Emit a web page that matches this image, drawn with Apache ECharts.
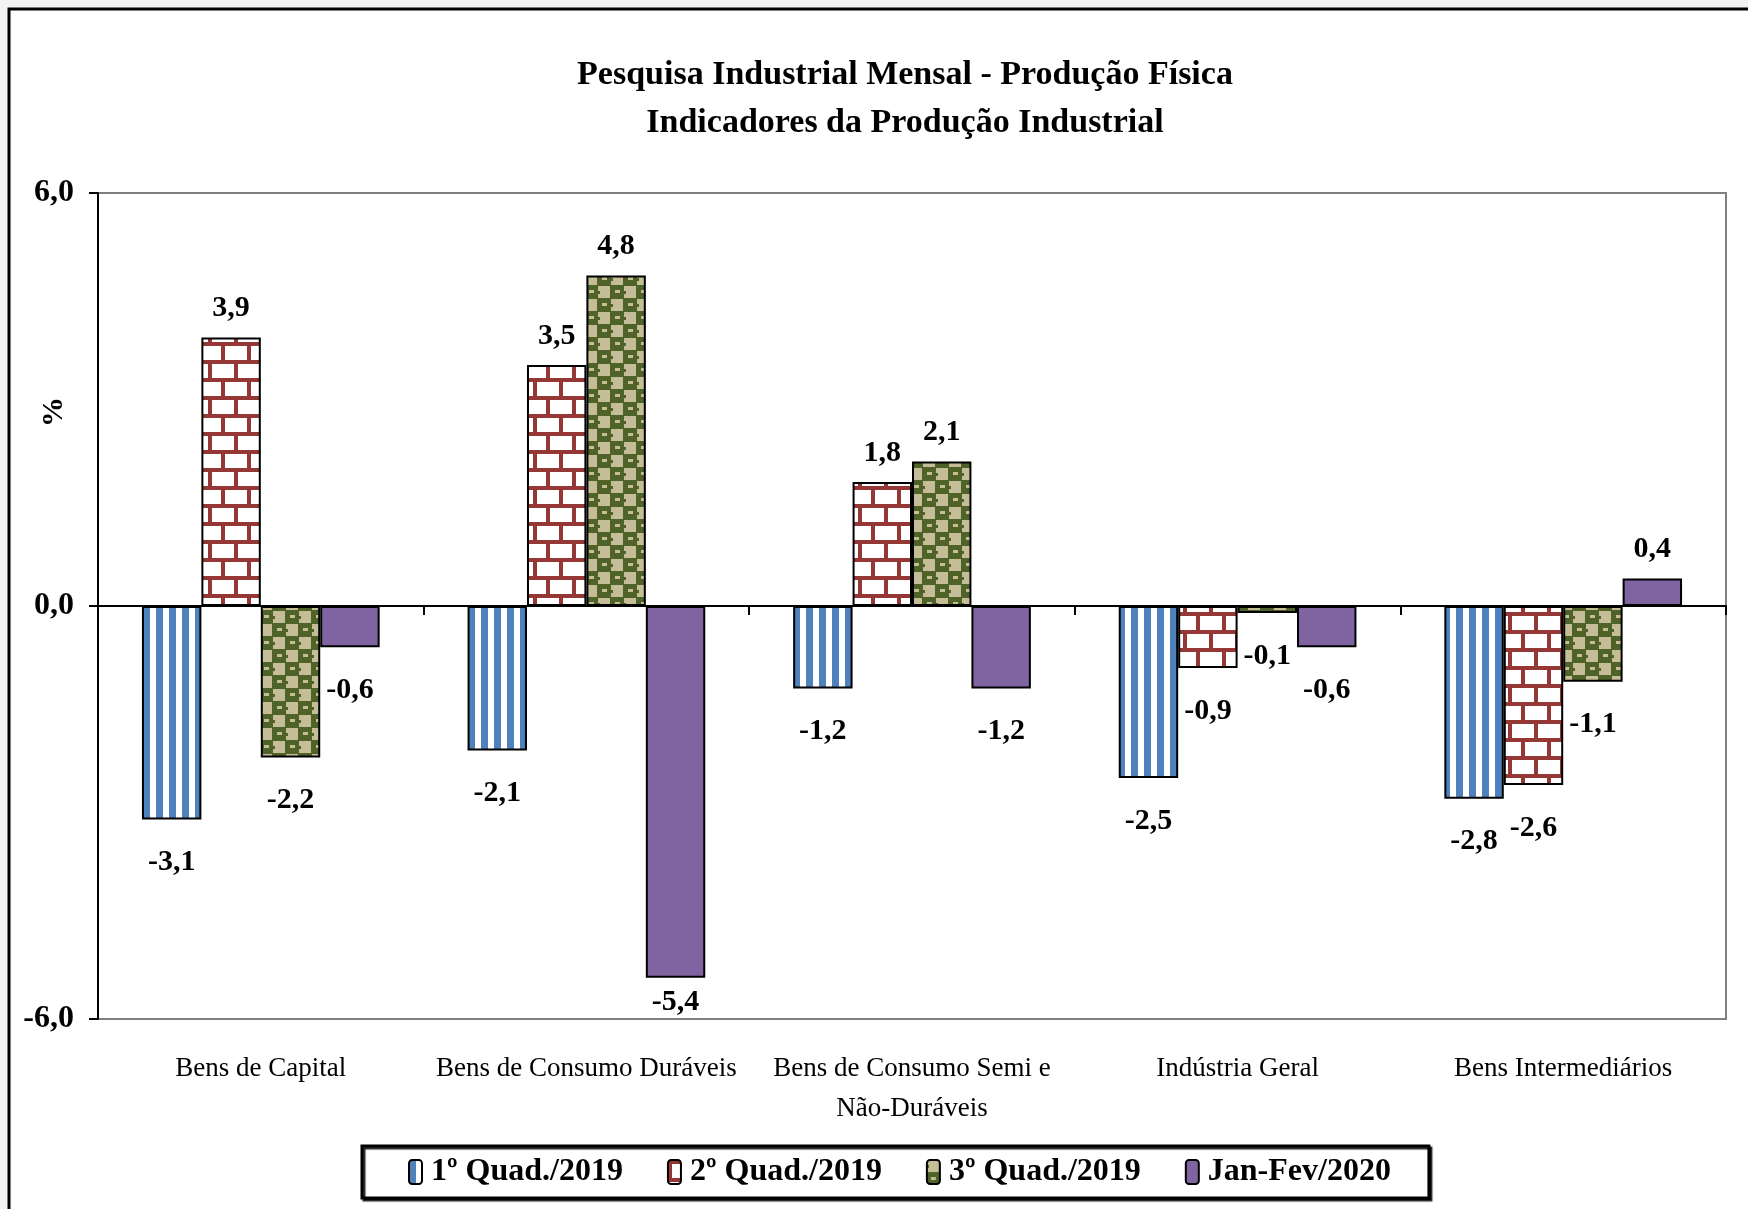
<!DOCTYPE html>
<html><head><meta charset="utf-8">
<script src="https://cdn.jsdelivr.net/npm/echarts@6/dist/echarts.min.js"></script>
<style>html,body{margin:0;padding:0;background:#f2f2f2;} #chart{width:1748px;height:1209px;}</style>
</head><body><div id="chart"></div>
<script>
// ---- data ----
const categories = ['Bens de Capital', 'Bens de Consumo Duráveis', 'Bens de Consumo Semi e\nNão-Duráveis', 'Indústria Geral', 'Bens Intermediários'];
const seriesNames = ['1º Quad./2019', '2º Quad./2019', '3º Quad./2019', 'Jan-Fev/2020'];
const q1_2019 = [-3.1, -2.1, -1.2, -2.5, -2.8];
const q2_2019 = [3.9, 3.5, 1.8, -0.9, -2.6];
const q3_2019 = [-2.2, 4.8, 2.1, -0.1, -1.1];
const janFev2020 = [-0.6, -5.4, -1.2, -0.6, 0.4];
const yMin = -6, yMax = 6, yStep = 6;
const titleLines = ['Pesquisa Industrial Mensal - Produção Física', 'Indicadores da Produção Industrial'];
const yAxisName = '%';

// ---- patterns ----
function tile(w, h, draw) {
  const c = document.createElement('canvas');
  c.width = w; c.height = h;
  draw(c.getContext('2d'));
  return { image: c, repeat: 'repeat' };
}
const stripes = tile(13, 4, g => {
  g.fillStyle = '#ffffff'; g.fillRect(0, 0, 13, 4);
  g.fillStyle = '#4f81bd'; g.fillRect(0, 0, 7, 4);
});
const bricks = tile(26, 36, g => {
  g.fillStyle = '#ffffff'; g.fillRect(0, 0, 26, 36);
  g.fillStyle = '#953735';
  g.fillRect(0, 0, 26, 4);
  g.fillRect(0, 18, 26, 4);
  g.fillRect(0, 0, 4, 18);
  g.fillRect(13, 18, 4, 18);
});
const checker = tile(26, 26, g => {
  g.fillStyle = '#4f6228'; g.fillRect(0, 0, 26, 26);
  g.fillStyle = '#c4bd97';
  g.fillRect(0, 0, 12, 12);
  g.fillRect(13, 13, 12, 12);
  g.fillRect(17, 4, 5, 3);
  g.fillRect(4, 17, 5, 3);
  g.fillStyle = '#4f6228';
  g.fillRect(0, 5, 2, 3); g.fillRect(13, 18, 2, 3);
});
const fills = [stripes, bricks, checker, '#8064a2'];
const valuesList = [q1_2019, q2_2019, q3_2019, janFev2020];

const fmt = v => v.toFixed(1).replace('.', ',');
const serif = 'Liberation Serif';

function mkData(arr) {
  return arr.map(v => ({
    value: v,
    label: {
      position: v >= 0 ? 'top' : 'bottom',
      distance: v >= 0 ? 14 : (v < -5 ? 10 : 28)
    }
  }));
}

const series = seriesNames.map((name, i) => ({
  name: name,
  type: 'bar',
  xAxisIndex: 0,
  barGap: '0%',
  barCategoryGap: '27%',
  itemStyle: { color: fills[i], borderColor: '#000', borderWidth: 2 },
  label: {
    show: true,
    formatter: p => fmt(p.value),
    fontFamily: serif, fontWeight: 'bold', fontSize: 30, color: '#000'
  },
  data: mkData(valuesList[i])
}));

const chart = echarts.init(document.getElementById('chart'), null, { renderer: 'canvas' });
chart.setOption({
  backgroundColor: '#f2f2f2',
  animation: false,
  title: {
    text: titleLines.join('\n'),
    left: 900,
    textAlign: 'center',
    top: 46,
    textStyle: { fontFamily: serif, fontWeight: 'bold', fontSize: 34, lineHeight: 48, color: '#000' }
  },
  graphic: [
    {
      type: 'rect', z: -10, silent: true,
      shape: { x: 9, y: 9, width: 1800, height: 1300 },
      style: { fill: '#ffffff', stroke: '#000000', lineWidth: 3 }
    },
    {
      type: 'text', silent: true,
      x: 54, y: 412, rotation: Math.PI / 2,
      style: { text: yAxisName, fontFamily: serif, fontWeight: 'bold', fontSize: 30, fill: '#000', align: 'center', verticalAlign: 'middle' }
    }
  ],
  legend: {
    data: seriesNames,
    left: 362, top: 1146,
    orient: 'horizontal',
    padding: [8, 38, 8, 46],
    itemGap: 44,
    itemWidth: 13, itemHeight: 24,
    backgroundColor: '#ffffff',
    borderColor: '#000', borderWidth: 3,
    shadowColor: 'rgba(0,0,0,0.85)', shadowOffsetX: 2, shadowOffsetY: 2, shadowBlur: 1,
    textStyle: { fontFamily: serif, fontWeight: 'bold', fontSize: 32, lineHeight: 36, color: '#000', padding: [0, 0, 0, 4] }
  },
  grid: {
    left: 98, right: 22, top: 193, bottom: 190,
    show: true, borderColor: '#808080', borderWidth: 2, backgroundColor: 'transparent'
  },
  xAxis: [
    {
      type: 'category', data: categories, position: 'bottom',
      axisLine: { show: false, onZero: false },
      axisTick: { show: false },
      axisLabel: { interval: 0, margin: 30, fontFamily: serif, fontSize: 27, lineHeight: 40, color: '#000' }
    },
    {
      type: 'category', data: categories, position: 'bottom',
      axisLine: { show: true, onZero: true, lineStyle: { color: '#000', width: 2 } },
      axisTick: { show: true, length: 9, lineStyle: { color: '#000', width: 2 } },
      axisLabel: { show: false }
    }
  ],
  yAxis: {
    type: 'value', min: yMin, max: yMax, interval: yStep,
    axisLine: { show: true, lineStyle: { color: '#000', width: 2 } },
    axisTick: { show: true, length: 9, lineStyle: { color: '#000', width: 2 } },
    splitLine: { show: false },
    axisLabel: { formatter: v => fmt(v), margin: 24, fontFamily: serif, fontWeight: 'bold', fontSize: 32, color: '#000' }
  },
  series: series
});
</script>
</body></html>
